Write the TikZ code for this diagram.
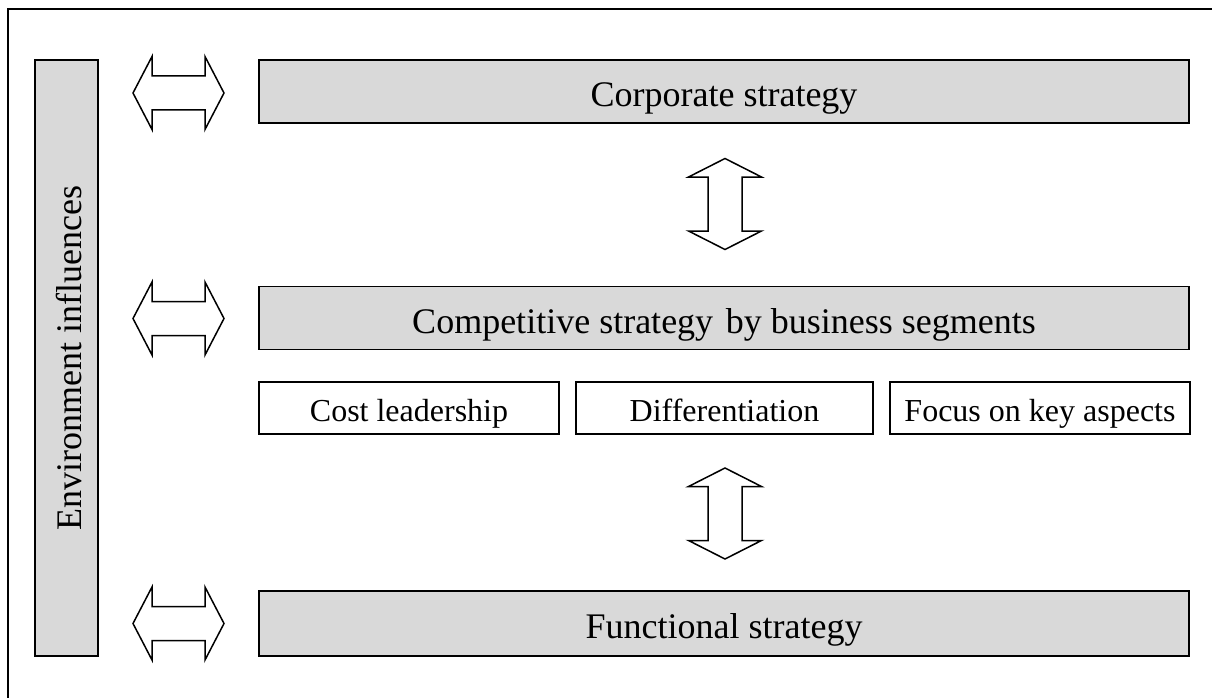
\documentclass[tikz,border=0pt]{standalone}
\usepackage{fontspec}
\setmainfont{Liberation Serif}
\usepackage{tikz}
\definecolor{boxgray}{RGB}{217,217,217}
\newcommand{\bigtext}{\fontsize{36}{40}\selectfont}
\newcommand{\smalltext}{\fontsize{32}{36}\selectfont}
\tikzset{
	harrow/.pic={\draw[line width=1.5pt, fill=white] (-45.5,0) -- (-26.5,-36.5) -- (-26.5,-17) -- (26.5,-17) -- (26.5,-36.5) -- (45.5,0) -- (26.5,36.5) -- (26.5,17) -- (-26.5,17) -- (-26.5,36.5) -- cycle;},
	varrow/.pic={\draw[line width=1.5pt, fill=white] (0,-45.5) -- (-36.5,-27) -- (-17,-27) -- (-17,27) -- (-36.5,27) -- (0,45.5) -- (36.5,27) -- (17,27) -- (17,-27) -- (36.5,-27) -- cycle;}
}

\begin{document}
\begin{tikzpicture}[x=1pt, y=-1pt, line join=miter]
		\tikzstyle{strat}=[draw=black, fill=boxgray, line width=1.8pt, minimum width=930, minimum height=63, inner sep=0pt, text height=30pt, text depth=0pt, font=\bigtext]
		\tikzstyle{option}=[draw=black, fill=white, line width=1.8pt, minimum height=52, inner sep=0pt, text height=26pt, text depth=0pt, font=\smalltext]

		\useasboundingbox (0,0) rectangle (1212,698);
		\draw[line width=1.5pt] (8,9) rectangle (1230,720);

		% Draw strategy levels
		\node[strat] (corp) at (724,91.5) {Corporate strategy};
		\node[strat] (comp) at (724,318) {Competitive strategy\hspace{0.35em}by business segments};
		\node[strat, minimum height=65] (func) at (724,623.5) {Functional strategy};
		\node[strat, minimum width=596, rotate=90] (env) at (66.5,358) {Environment influences};

		% Draw generic strategies
		\node[option, minimum width=300] (cost) at (409,408) {Cost leadership};
		\node[option, minimum width=297] (diff) at (724.5,408) {Differentiation};
		\node[option, minimum width=300] (focus) at (1040,408) {Focus on key aspects};

		% Draw block arrows
		\pic (envcorp) at (178.5,93) {harrow};
		\pic (envcomp) at (178.5,318.5) {harrow};
		\pic (envfunc) at (178.5,623.5) {harrow};
		\pic (corpcomp) at (725,204) {varrow};
		\pic (compfunc) at (725,513.5) {varrow};

		\end{tikzpicture}
\end{document}
